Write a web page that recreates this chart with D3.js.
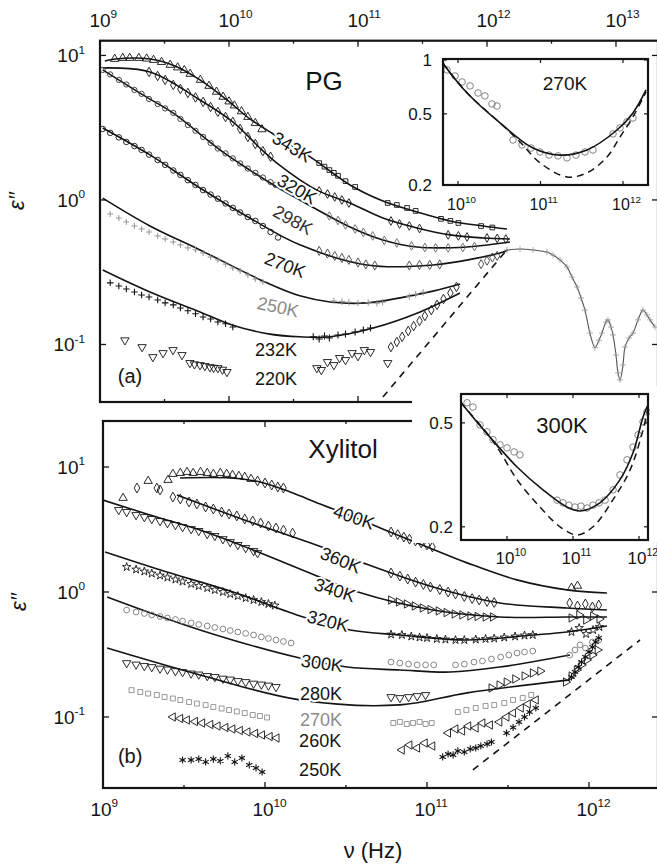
<!DOCTYPE html>
<html>
<head>
<meta charset="utf-8">
<script src="https://cdn.jsdelivr.net/npm/d3@7/dist/d3.min.js"></script>
<style>
  html, body { margin: 0; padding: 0; background: #fff; }
  svg { display: block; }
  text { font-family: "Liberation Sans", Arial, Helvetica, sans-serif; }
</style>
</head>
<body>
<svg id="fig" width="657" height="866"></svg>
<script>
// Dielectric loss eps'' versus frequency for propylene glycol (PG) and xylitol.
// Frequencies are given in GHz, loss values as plain numbers.
const GHz = 1e9;
const INK = '#141414', GRAY = '#8c8c8c';

// ---------------- PG: model curves ----------------
const fitPG343 = [[1.09,9.16],[1.31,9.46],[2.44,9.46],[3.81,8.46],[5.96,6.77],[9.64,4.92],[14.5,3.64],[21.9,2.87],[44,1.95],[86.7,1.27],[156,0.984],[287,0.826],[517,0.716],[931,0.661],[1429,0.63]];
const fitPG320 = [[1.05,8.19],[2.44,7.69],[5.96,4.92],[10.7,3.47],[18.0,2.22],[23.5,1.80],[48,1.17],[86.7,0.953],[156,0.75],[287,0.64],[517,0.573],[931,0.546],[1507,0.537]];
const fitPG298 = [[1.05,7.94],[2.15,5.33],[3.68,4.0],[8.51,2.22],[14.5,1.61],[23.5,1.23],[35.4,1.0],[86.7,0.651],[156,0.529],[287,0.473],[700,0.473],[1507,0.512]];
const fitPG270 = [[1.05,3.15],[2.44,2.05],[5.96,1.21],[14.5,0.75],[35.4,0.489],[117,0.355],[381,0.355],[1262,0.430],[1455,0.451]];
const fitPG250 = [[1.05,1.03],[2.44,0.661],[5.96,0.451],[19.7,0.267],[35.4,0.217],[60.7,0.197],[117,0.194],[381,0.234],[618,0.262]];
const fitPG232 = [[1.05,0.328],[2.44,0.231],[5.96,0.168],[10.7,0.136],[20.8,0.118],[35.4,0.113],[60.7,0.113],[131,0.130],[303,0.168],[618,0.227]];
const pgSlopeOne = [[156,0.0433],[1380,0.436]];

// ---------------- PG: measured points ----------------
const pg343Low = [[1.3,9.46],[1.5,9.6],[1.7,9.6],[2,9.6],[2.3,9.5],[2.6,9.3],[3,9.0],[3.5,8.6],[4,8.25],[4.5,7.9],[5,7.45],[6,6.77],[7,6.15],[8,5.6],[9,5.17],[10,4.8],[11,4.5],[12.5,4.1],[14,3.75],[16,3.4],[18,3.08]];
const pg343High = [[50,1.80],[55,1.70],[60,1.61],[65,1.54],[70,1.47],[80,1.35],[95,1.23],[170,0.953],[200,0.923],[240,0.88],[280,0.84],[440,0.74],[520,0.716],[600,0.693],[900,0.66],[1100,0.645]];
const pg320Low = [[2.4,7.69],[2.8,7.21],[3.2,6.77],[3.7,6.25],[4.2,5.86],[4.8,5.5],[5.5,5.12],[6.3,4.77],[7.2,4.4],[8.2,4.07],[9.4,3.75],[10.7,3.47],[12.2,3.1],[14,2.73],[16,2.44],[18.3,2.18],[21,1.99]];
const pg320High = [[50,1.154],[58,1.10],[66,1.049],[75,1.0],[85,0.953],[180,0.716],[210,0.682],[250,0.661],[300,0.635],[500,0.573],[600,0.564],[700,0.555],[1000,0.546],[1200,0.542],[1400,0.537]];
const pg298Low = [[1.05,7.94],[1.2,7.39],[1.4,6.77],[1.6,6.3],[1.85,5.77],[2.1,5.42],[2.4,5.0],[2.8,4.61],[3.2,4.3],[3.7,4.0],[4.2,3.64],[4.8,3.3],[5.5,3.01],[6.3,2.73],[7.2,2.48],[8.2,2.27],[9.4,2.1],[10.7,1.94],[12.2,1.79],[14,1.65],[16,1.54],[18.3,1.43],[21,1.33],[23,1.27]];
const pg298High = [[60,0.775],[70,0.721],[80,0.671],[95,0.63],[110,0.596],[130,0.564],[160,0.525],[200,0.504],[260,0.481],[330,0.469],[400,0.466],[500,0.466],[650,0.469],[800,0.476]];
const pg270Low = [[1.05,3.10],[1.2,2.91],[1.4,2.71],[1.6,2.52],[1.85,2.36],[2.1,2.22],[2.4,2.06],[2.8,1.89],[3.2,1.75],[3.7,1.60],[4.2,1.49],[4.8,1.37],[5.5,1.27],[6.3,1.17],[7.2,1.09],[8.2,1.02],[9.4,0.946],[10.7,0.881],[12.2,0.819],[14,0.762],[16,0.716],[18.3,0.66],[21,0.60],[24,0.55]];
const pg270High = [[50,0.444],[58,0.426],[66,0.41],[75,0.397],[85,0.385],[100,0.369],[115,0.358],[135,0.352],[250,0.352],[300,0.355],[360,0.355],[430,0.358],[900,0.36],[1000,0.38],[1100,0.40],[1200,0.41]];
const pg250Low = [[1.2,0.80],[1.4,0.75],[1.6,0.705],[1.85,0.661],[2.1,0.63],[2.4,0.60],[2.8,0.564],[3.2,0.537],[3.7,0.512],[4.2,0.489],[4.8,0.466],[5.5,0.451],[6.3,0.43],[7.2,0.403],[8.2,0.385],[9.4,0.36],[10.7,0.338],[12.2,0.323],[14,0.303],[16,0.284],[18.3,0.271]];
const pg250High = [[65,0.20],[75,0.198],[85,0.196],[100,0.194],[120,0.195],[140,0.193],[155,0.196],[250,0.215],[280,0.222],[320,0.23]];
const pg232Low = [[1.2,0.267],[1.4,0.254],[1.6,0.242],[1.85,0.231],[2.1,0.22],[2.4,0.213],[2.8,0.203],[3.2,0.194],[3.7,0.188],[4.2,0.179],[4.8,0.171],[5.5,0.163],[6.3,0.155],[7.2,0.15],[8.2,0.143],[9.4,0.139],[10.7,0.132]];
const pg232High = [[45,0.113],[50,0.109],[55,0.1145],[60,0.111],[70,0.1164],[80,0.118],[95,0.122],[110,0.126],[125,0.130]];
const pg232THz = [[180,0.096],[200,0.104],[220,0.113],[245,0.124],[270,0.134],[300,0.1455],[330,0.1575],[370,0.173],[410,0.188],[460,0.2065],[520,0.227],[580,0.25]];
const pg220Low = [[1.56,0.107],[2.12,0.096],[2.57,0.0819],[3.08,0.0873],[3.68,0.0916],[4.32,0.0846],[4.98,0.0745],[5.4,0.073],[5.96,0.0721],[6.5,0.071],[7.12,0.0698],[7.6,0.069],[8.2,0.0687],[8.9,0.067],[9.64,0.0646]];
const pg220High = [[48,0.0687],[52,0.0667],[58,0.0757],[65,0.0721],[72,0.0807],[80,0.0781],[90,0.0873],[100,0.0832],[112,0.0916],[125,0.0888],[170,0.0745]];
// far-infrared spectrum (single broad band with structure)
const pgTHz = [[1429,0.451],[1803,0.458],[2275,0.451],[2917,0.436],[3250,0.416],[3680,0.385],[4170,0.344],[4560,0.293],[4990,0.250],[5360,0.210],[5750,0.173],[6280,0.120],[6870,0.095],[7380,0.107],[7780,0.120],[8360,0.143],[8670,0.148],[9150,0.132],[9480,0.1164],[10000,0.0846],[10370,0.0636],[10750,0.0568],[11330,0.0721],[11750,0.096],[12620,0.111],[13550,0.120],[14820,0.148],[16180,0.173],[17380,0.160],[18370,0.148],[20050,0.132]];

// ---------------- Xylitol: model curves ----------------
const fitXy400 = [[2.99,8.17],[6.08,8.17],[9.31,7.59],[14.3,6.31],[21.9,5.06],[35.4,3.98],[59.1,3.02],[104,2.25],[177,1.71],[359,1.25],[731,1.04],[1291,0.982]];
const fitXy360 = [[2.86,5.97],[8.08,3.63],[25.2,2.17],[40.3,1.71],[109,1.096],[282,0.817],[731,0.745],[1291,0.718]];
const fitXy340 = [[1,5.44],[1.95,4.13],[3.97,3.13],[8.43,2.17],[18.9,1.42],[37.5,1.0],[109,0.718],[282,0.631],[731,0.631],[1291,0.631]];
const fitXy320 = [[1.03,2.09],[2.48,1.445],[6.35,1.0],[17.2,0.631],[33.5,0.497],[68.1,0.453],[177,0.413],[451,0.453],[731,0.479],[1291,0.535]];
const fitXy300 = [[1.06,0.912],[3.97,0.497],[16.4,0.296],[32.1,0.251],[68.1,0.238],[139,0.229],[282,0.251],[763,0.313]];
const fitXy280 = [[1.06,0.356],[3.97,0.217],[16.4,0.137],[68.1,0.125],[177,0.156],[763,0.198]];
const xySlopeOne = [[192,0.0377],[2065,0.413]];

// ---------------- Xylitol: measured points ----------------
const xy400 = [[1.33,5.65],[1.9,7.73],[2.52,7.87],[2.7,8.79],[3,8.95],[3.3,9.12],[3.6,8.95],[4,9.12],[4.4,8.95],[4.8,8.79],[5.3,8.95],[5.8,8.79],[6.3,8.63],[6.9,8.47],[7.5,8.32],[8.2,8.02],[780,1.08],[850,1.12]];
const xy400b = [[1.62,6.79],[2.25,6.55],[9,7.73],[10,7.45],[11,7.18],[12,6.92],[13,6.79],[60,3.02],[66,2.88],[72,2.75],[78,2.65],[85,2.56],[92,2.47],[100,2.38],[108,2.29]];
const xy360 = [[2.15,6.79],[2.7,5.75],[3,5.55],[3.4,5.25],[3.8,5.06],[4.3,4.79],[4.8,4.61],[5.4,4.37],[6,4.21],[6.7,4.06],[7.5,3.84],[8.4,3.70],[9.4,3.56],[10.5,3.37],[11.7,3.25],[13,3.13],[14.8,2.96],[60,1.42],[68,1.34],[76,1.27],[85,1.20],[95,1.148],[105,1.096],[120,1.047],[135,1.0],[150,0.964],[170,0.92],[190,0.887],[210,0.863],[235,0.839],[260,0.824],[760,0.817],[850,0.773],[950,0.802],[1050,0.759],[1150,0.787]];
const xy340Low = [[1.25,4.53],[1.4,4.37],[1.6,4.13],[1.8,3.98],[2,3.84],[2.25,3.70],[2.5,3.56],[2.8,3.44],[3.1,3.31],[3.5,3.19],[3.9,3.08],[4.4,2.91],[4.9,2.81],[5.5,2.65],[6.1,2.51],[6.8,2.38],[7.6,2.25],[8.5,2.13],[9,2.05]];
const xy340High = [[60,0.863],[67,0.832],[75,0.802],[84,0.773],[94,0.745],[105,0.724],[118,0.705],[132,0.685],[148,0.667],[165,0.655],[185,0.643],[205,0.637],[230,0.631],[255,0.631],[780,0.62],[870,0.655],[960,0.597],[1060,0.643],[1160,0.608]];
const xy320 = [[1.4,1.585],[1.6,1.514],[1.8,1.459],[2,1.406],[2.25,1.355],[2.5,1.306],[2.8,1.259],[3.1,1.213],[3.5,1.159],[3.9,1.117],[4.4,1.076],[4.9,1.038],[5.5,1.0],[6.1,0.964],[6.8,0.929],[7.6,0.895],[8.5,0.863],[9.5,0.832],[10.5,0.802],[11.5,0.78],[60,0.457],[70,0.453],[80,0.441],[90,0.433],[100,0.429],[115,0.421],[130,0.417],[150,0.413],[170,0.413],[200,0.417],[230,0.421],[260,0.425],[300,0.433],[350,0.441],[400,0.449],[450,0.453],[780,0.479],[870,0.515],[960,0.461],[1060,0.497],[1160,0.525]];
const xy300 = [[1.4,0.718],[1.6,0.692],[1.8,0.673],[2,0.655],[2.25,0.637],[2.5,0.619],[2.8,0.603],[3.1,0.586],[3.5,0.565],[3.9,0.55],[4.4,0.535],[4.9,0.52],[5.5,0.506],[6.1,0.492],[6.8,0.479],[7.6,0.466],[8.5,0.453],[9.5,0.437],[10.5,0.425],[11.7,0.413],[13,0.402],[14.5,0.391],[60,0.275],[68,0.27],[77,0.265],[87,0.261],[98,0.261],[110,0.261],[150,0.261],[170,0.265],[195,0.275],[220,0.281],[250,0.291],[285,0.302],[320,0.313],[360,0.325],[400,0.331],[450,0.337],[760,0.313],[820,0.344],[880,0.377],[950,0.356],[1050,0.398],[1150,0.413]];
const xy280 = [[1.4,0.27],[1.6,0.263],[1.8,0.256],[2,0.251],[2.25,0.244],[2.5,0.24],[2.8,0.233],[3.1,0.229],[3.5,0.223],[3.9,0.219],[4.4,0.213],[4.9,0.209],[5.5,0.203],[6.1,0.1995],[6.8,0.194],[7.6,0.1905],[8.5,0.185],[9.5,0.182],[10.5,0.1786],[11.7,0.1738],[60,0.1445],[68,0.1419],[77,0.1445],[87,0.147],[98,0.15]];
const xy280b = [[250,0.1706],[280,0.1803],[310,0.1905],[350,0.2014],[400,0.213],[450,0.225],[500,0.233],[720,0.1905],[780,0.213],[840,0.238],[900,0.261],[970,0.286],[1050,0.313],[1130,0.344]];
const xy270 = [[1.5,0.164],[1.7,0.1585],[1.9,0.154],[2.15,0.150],[2.4,0.1445],[2.7,0.1406],[3,0.1368],[3.4,0.1318],[3.8,0.128],[4.3,0.1247],[4.8,0.1202],[5.4,0.117],[6,0.1138],[6.7,0.1107],[7.5,0.1076],[8.4,0.1038],[9.3,0.1019],[10.3,0.0991],[62,0.0895],[68,0.0912],[75,0.0879],[82,0.0895],[90,0.0912],[98,0.0879],[107,0.0895],[155,0.1096],[175,0.1138],[200,0.118],[230,0.1225],[260,0.1247],[300,0.1294],[340,0.1368],[390,0.1419],[440,0.15]];
const xy260 = [[2.7,0.1],[3,0.0973],[3.3,0.0946],[3.7,0.092],[4.1,0.0895],[4.6,0.0871],[5.1,0.0847],[5.7,0.0824],[6.3,0.0802],[7,0.078],[7.8,0.0759],[8.7,0.0738],[9.6,0.0718],[10.7,0.0698],[11.8,0.0679],[70,0.0545],[78,0.0597],[87,0.0565],[97,0.0619],[108,0.0586],[135,0.0745],[150,0.0802],[165,0.0773],[180,0.0847],[200,0.0817],[220,0.0895],[245,0.0863],[280,0.0912],[310,0.1],[340,0.1076],[380,0.118],[420,0.127],[470,0.1368]];
const xy250 = [[3.1,0.0453],[3.5,0.0453],[3.9,0.0461],[4.3,0.0437],[4.8,0.0461],[5.3,0.0445],[5.9,0.0488],[6.5,0.0437],[7.2,0.047],[8,0.0413],[8.8,0.0391],[9.6,0.0363],[125,0.0479],[135,0.0506],[145,0.0497],[155,0.0535],[170,0.0525],[185,0.0555],[200,0.0565],[215,0.0586],[235,0.0608],[250,0.0631],[310,0.0745],[340,0.0824],[370,0.0912],[400,0.1],[430,0.1096],[470,0.118],[780,0.209],[820,0.229],[860,0.251],[900,0.275],[950,0.302],[1000,0.331],[1050,0.363],[1100,0.398],[1150,0.429]];

// ---------------- insets ----------------
const insetPGFit = [[6.6,0.96],[6.95,0.926],[12.9,0.654],[32.3,0.445],[81.1,0.322],[172,0.294],[366,0.314],[845,0.406],[1321,0.506],[1901,0.68]];
const insetPGDash = [[6.6,0.96],[6.95,0.926],[12.9,0.654],[32.3,0.445],[56.5,0.348],[98.6,0.266],[209,0.222],[366,0.234],[640,0.287],[920,0.371],[1321,0.481],[1901,0.663]];
const insetPGData = [[7.36,0.88],[9.2,0.814],[11.2,0.754],[14,0.716],[17.5,0.654],[21.2,0.63],[25.8,0.568],[29.7,0.553],[46.4,0.357],[59.7,0.335],[76.7,0.322],[98.6,0.306],[127,0.294],[163,0.291],[209,0.284],[269,0.294],[346,0.306],[432,0.314],[757,0.386],[920,0.417],[1117,0.451],[1321,0.474]];
const insetXyFit = [[2.0,0.60],[2.15,0.586],[5.52,0.441],[14.2,0.339],[35.1,0.277],[81.1,0.238],[128,0.230],[256,0.247],[515,0.303],[811,0.384],[1151,0.527],[1340,0.58]];
const insetXyDash = [[2.0,0.60],[2.15,0.586],[5.52,0.441],[7.83,0.388],[14.2,0.303],[31.6,0.238],[63.5,0.200],[115,0.186],[201,0.200],[404,0.254],[731,0.330],[1151,0.470],[1340,0.56]];
const insetXyData = [[2.48,0.597],[3.05,0.575],[3.9,0.491],[4.98,0.462],[6.14,0.431],[7.83,0.412],[10,0.401],[12.8,0.387],[15.7,0.377],[57.3,0.253],[70.5,0.247],[86.9,0.242],[107,0.238],[132,0.24],[163,0.236],[201,0.242],[248,0.247],[306,0.253],[404,0.277],[515,0.316],[658,0.361],[811,0.404],[966,0.45],[1151,0.505],[1321,0.551]];

// ---------------- ticks ----------------
const xDecadesA = [1e9, 1e10, 1e11, 1e12, 1e13];
const xHalfA = [10 ** 9.5, 10 ** 10.5, 10 ** 11.5, 10 ** 12.5];
const xDecadesB = [1e9, 1e10, 1e11, 1e12];
const xHalfB = [10 ** 9.5, 10 ** 10.5, 10 ** 11.5];
const yDecades = [10, 1, 0.1];
const insetXTicks = [1e10, 1e11, 1e12];
const insetPGYTicks = [1, 0.5, 0.2];
const insetXyYTicks = [0.5, 0.2];

// ---------------- scales ----------------
const xA = d3.scaleLog().domain([1e9, 10 ** 13.318]).range([100, 657]);
const yA = d3.scaleLog().domain([10 ** -1.398, 10 ** 1.102]).range([402, 40.7]);
const xB = d3.scaleLog().domain([1e9, 10 ** 12.42]).range([103, 657]);
const yB = d3.scaleLog().domain([10 ** -1.568, 10 ** 1.368]).range([788, 421]);
const xIA = d3.scaleLog().domain([10 ** 9.818, 10 ** 12.303]).range([443, 648]);
const yIA = d3.scaleLog().domain([0.2, 1.013]).range([185, 59]);
const xIB = d3.scaleLog().domain([10 ** 9.303, 10 ** 12.136]).range([461, 648]);
const yIB = d3.scaleLog().domain([0.178, 0.645]).range([540, 394]);

const svg = d3.select('#fig');
const defs = svg.append('defs');
function clipRect(id, x, y) {
  const [x0, x1] = x.range(), [y1, y0] = y.range();
  defs.append('clipPath').attr('id', id).append('rect')
    .attr('x', x0).attr('y', y0).attr('width', x1 - x0 + 2).attr('height', y1 - y0);
  return `url(#${id})`;
}

const SYM = {
  tri: [d3.symbolTriangle, 0], triDown: [d3.symbolTriangle, 180],
  triLeft: [d3.symbolTriangle, -90], triRight: [d3.symbolTriangle, 90],
  diamond: [d3.symbolDiamond, 0], circle: [d3.symbolCircle, 0],
  square: [d3.symbolSquare, 0], star: [d3.symbolStar, 0],
  plus: [d3.symbolPlus || d3.symbolCross, 0],
  asterisk: [d3.symbolAsterisk || d3.symbolWye, 0]
};

function curve(g, pts, x, y, opts = {}) {
  const line = d3.line().x(d => x(d[0] * GHz)).y(d => y(d[1]))
    .curve(opts.straight ? d3.curveLinear : d3.curveCatmullRom.alpha(0.5));
  g.append('path').datum(pts).attr('d', line)
    .attr('fill', 'none').attr('stroke', opts.color || INK)
    .attr('stroke-width', opts.width || 1.6)
    .attr('stroke-dasharray', opts.dash || null);
}

function markers(g, pts, x, y, sym, color, size, sw) {
  const [type, rot] = SYM[sym];
  g.append('g').selectAll('path').data(pts).join('path')
    .attr('d', d3.symbol(type, size))
    .attr('transform', d => `translate(${x(d[0] * GHz)},${y(d[1])}) rotate(${rot})`)
    .attr('fill', 'none').attr('stroke', color).attr('stroke-width', sw || 0.9);
}

function label(g, x, y, d, text, opts = {}) {
  g.append('text')
    .attr('transform', `translate(${x(d[0] * GHz)},${y(d[1])}) rotate(${opts.angle || 0})`)
    .attr('text-anchor', 'middle').attr('dy', '0.35em')
    .attr('font-size', opts.size || 18)
    .attr('fill', opts.color || INK)
    .attr('stroke', opts.halo === false ? null : '#fff')
    .attr('stroke-width', opts.halo === false ? null : 4)
    .attr('stroke-linejoin', 'round')
    .style('paint-order', 'stroke')
    .text(text);
}

// power-of-ten label, "10" centred at px for horizontal axes
function powerX(g, px, baseline, v, fs) {
  const t = g.append('text').attr('x', px - 0.556 * fs).attr('y', baseline)
    .attr('font-size', fs).attr('fill', INK);
  t.append('tspan').text('10');
  t.append('tspan').attr('font-size', fs * 0.62).attr('dy', -fs * 0.45)
    .text(Math.round(Math.log10(v)));
}
function powerY(g, right, py, v, fs) {
  const t = g.append('text').attr('x', right).attr('y', py + fs * 0.36)
    .attr('text-anchor', 'end').attr('font-size', fs).attr('fill', INK);
  t.append('tspan').text('10');
  t.append('tspan').attr('font-size', fs * 0.62).attr('dy', -fs * 0.45)
    .text(String(Math.round(Math.log10(v))).replace('-', '-'));
}

function frameAndTicks(g, x, y, xMajor, xMinor, yMajor, sw) {
  const [x0, x1] = x.range(), [y1, y0] = y.range();
  g.append('rect').attr('x', x0).attr('y', y0).attr('width', x1 + 1 - x0).attr('height', y1 - y0)
    .attr('fill', 'none').attr('stroke', INK).attr('stroke-width', sw);
  const tk = g.append('g').attr('stroke', INK).attr('stroke-width', 1.3);
  xMajor.filter(v => v >= x.domain()[0] && v <= x.domain()[1]).forEach(v => {
    tk.append('line').attr('x1', x(v)).attr('x2', x(v)).attr('y1', y0).attr('y2', y0 + 6);
    tk.append('line').attr('x1', x(v)).attr('x2', x(v)).attr('y1', y1).attr('y2', y1 - 6);
  });
  xMinor.filter(v => v >= x.domain()[0] && v <= x.domain()[1]).forEach(v => {
    tk.append('line').attr('x1', x(v)).attr('x2', x(v)).attr('y1', y0).attr('y2', y0 + 3);
    tk.append('line').attr('x1', x(v)).attr('x2', x(v)).attr('y1', y1).attr('y2', y1 - 3);
  });
  yMajor.forEach(v => {
    tk.append('line').attr('x1', x0).attr('x2', x0 + 6).attr('y1', y(v)).attr('y2', y(v));
    tk.append('line').attr('x1', x1 + 1).attr('x2', x1 - 5).attr('y1', y(v)).attr('y2', y(v));
  });
}

// ================= panel (a): PG =================
const gA = svg.append('g').attr('clip-path', clipRect('clipA', xA, yA));
[fitPG343, fitPG320, fitPG298, fitPG270, fitPG250, fitPG232].forEach(f => curve(gA, f, xA, yA));
curve(gA, pgSlopeOne, xA, yA, { straight: true, dash: '7,6', width: 1.6 });
curve(gA, pgTHz, xA, yA, { color: '#555', width: 1.1 });
markers(gA, pgTHz, xA, yA, 'plus', '#999', 14, 0.8);

markers(gA, pg343Low, xA, yA, 'tri', INK, 30);
markers(gA, pg343High, xA, yA, 'square', INK, 22);
markers(gA, pg320Low, xA, yA, 'diamond', INK, 26);
markers(gA, pg320High, xA, yA, 'diamond', INK, 22);
markers(gA, pg298Low, xA, yA, 'circle', '#333', 22);
markers(gA, pg298High, xA, yA, 'diamond', '#666', 22);
markers(gA, pg270Low, xA, yA, 'circle', INK, 24);
markers(gA, pg270High, xA, yA, 'diamond', '#444', 24);
markers(gA, pg250Low, xA, yA, 'plus', GRAY, 14);
markers(gA, pg250High, xA, yA, 'plus', GRAY, 16);
markers(gA, pg232Low, xA, yA, 'plus', INK, 16, 1.1);
markers(gA, pg232High, xA, yA, 'plus', INK, 18, 1.1);
markers(gA, pg232THz, xA, yA, 'diamond', INK, 26);
markers(gA, pg220Low, xA, yA, 'triDown', INK, 30);
markers(gA, pg220High, xA, yA, 'triDown', INK, 30);

// ================= panel (b): Xylitol =================
const gB = svg.append('g').attr('clip-path', clipRect('clipB', xB, yB));
[fitXy400, fitXy360, fitXy340, fitXy320, fitXy300, fitXy280].forEach(f => curve(gB, f, xB, yB));
curve(gB, xySlopeOne, xB, yB, { straight: true, dash: '7,6', width: 1.6 });
markers(gB, xy400, xB, yB, 'tri', INK, 30);
markers(gB, xy400b, xB, yB, 'diamond', INK, 28);
markers(gB, xy360, xB, yB, 'diamond', INK, 28);
markers(gB, xy340Low, xB, yB, 'triDown', INK, 30);
markers(gB, xy340High, xB, yB, 'triRight', INK, 30);
markers(gB, xy320, xB, yB, 'star', INK, 22);
markers(gB, xy300, xB, yB, 'circle', '#777', 26);
markers(gB, xy280, xB, yB, 'triDown', INK, 30);
markers(gB, xy280b, xB, yB, 'triRight', INK, 30);
markers(gB, xy270, xB, yB, 'square', GRAY, 24);
markers(gB, xy260, xB, yB, 'triLeft', INK, 30);
markers(gB, xy250, xB, yB, 'asterisk', INK, 36, 1.1);

// ================= frames, ticks, tick labels =================
const axes = svg.append('g');
frameAndTicks(axes, xA, yA, xDecadesA, xHalfA, yDecades, 2.2);
frameAndTicks(axes, xB, yB, xDecadesB, xHalfB, yDecades, 2.2);
xDecadesA.forEach(v => powerX(axes, xA(v), 27, v, 19));
xDecadesB.forEach(v => powerX(axes, xB(v) - 2, 816, v, 19));
yDecades.forEach(v => powerY(axes, 85, yA(v), v, 19));
yDecades.forEach(v => powerY(axes, 85, yB(v), v, 19));

// ================= curve labels =================
const lab = svg.append('g');
label(lab, xA, yA, [30.8, 2.33], '343K', { angle: 31 });
label(lab, xA, yA, [33.7, 1.19], '320K', { angle: 30 });
label(lab, xA, yA, [31.3, 0.727], '298K', { angle: 29, color: '#333' });
label(lab, xA, yA, [27.2, 0.355], '270K', { angle: 21 });
label(lab, xA, yA, [24.0, 0.182], '250K', { angle: 12, color: GRAY });
label(lab, xA, yA, [23.1, 0.0916], '232K');
label(lab, xA, yA, [23.1, 0.0577], '220K');
label(lab, xA, yA, [1.71, 0.0605], '(a)', { size: 20 });
label(lab, xA, yA, [54.5, 6.66], 'PG', { size: 26 });

label(lab, xB, yB, [35.4, 3.98], '400K', { angle: 19 });
label(lab, xB, yB, [29.4, 1.80], '360K', { angle: 22 });
label(lab, xB, yB, [27.0, 1.04], '340K', { angle: 18 });
label(lab, xB, yB, [24.5, 0.586], '320K', { angle: 14 });
label(lab, xB, yB, [22.5, 0.270], '300K', { angle: 8 });
label(lab, xB, yB, [22.2, 0.153], '280K');
label(lab, xB, yB, [22.2, 0.0946], '270K', { color: GRAY });
label(lab, xB, yB, [21.9, 0.0643], '260K');
label(lab, xB, yB, [21.9, 0.0377], '250K');
label(lab, xB, yB, [1.47, 0.0488], '(b)', { size: 20 });
label(lab, xB, yB, [30.3, 13.9], 'Xylitol', { size: 26 });

// ================= inset: PG at 270K =================
function inset(x, y, bg, fit, dash, pts, yTicks, yFmt, yRight, xBase, fs, name, namePos, nameSize) {
  const [x0, x1] = x.range(), [y1, y0] = y.range();
  svg.append('rect').attr('x', bg[0]).attr('y', bg[1]).attr('width', bg[2] - bg[0]).attr('height', bg[3] - bg[1])
    .attr('fill', '#fff');
  const g = svg.append('g').attr('clip-path', clipRect(name.replace(/\W/g, '') + 'clip', x, y));
  markers(g, pts, x, y, 'circle', '#777', 34, 0.9);
  curve(g, dash, x, y, { dash: '7,5', width: 1.5 });
  curve(g, fit, x, y, { width: 1.6 });
  svg.append('rect').attr('x', x0).attr('y', y0).attr('width', x1 - x0).attr('height', y1 - y0)
    .attr('fill', 'none').attr('stroke', INK).attr('stroke-width', 2.2);
  const tk = svg.append('g').attr('stroke', INK).attr('stroke-width', 1.2);
  insetXTicks.forEach(v => {
    tk.append('line').attr('x1', x(v)).attr('x2', x(v)).attr('y1', y0).attr('y2', y0 + 4);
    tk.append('line').attr('x1', x(v)).attr('x2', x(v)).attr('y1', y1).attr('y2', y1 - 4);
    powerX(svg, x(v) - 2, xBase, v, fs);
  });
  yTicks.forEach(v => {
    tk.append('line').attr('x1', x0).attr('x2', x0 + 4).attr('y1', y(v)).attr('y2', y(v));
    tk.append('line').attr('x1', x1).attr('x2', x1 - 4).attr('y1', y(v)).attr('y2', y(v));
    svg.append('text').attr('x', yRight).attr('y', y(v) + 6).attr('text-anchor', 'end')
      .attr('font-size', 17).attr('fill', INK).text(yFmt(v));
  });
  label(svg, x, y, namePos, name, { size: nameSize, halo: false });
}
inset(xIA, yIA, [443, 59, 648, 185], insetPGFit, insetPGDash, insetPGData,
      insetPGYTicks, v => String(v), 432, 210, 16, '270K', [198, 0.744], 19);
inset(xIB, yIB, [412, 386, 658, 543], insetXyFit, insetXyDash, insetXyData,
      insetXyYTicks, v => String(v), 453, 564, 17, '300K', [68.1, 0.491], 22);

// ================= axis titles =================
svg.append('text').attr('transform', 'translate(24,201) rotate(-90)')
  .attr('text-anchor', 'middle').attr('font-size', 22).attr('font-style', 'italic')
  .attr('fill', INK).text('ε′′');
svg.append('text').attr('transform', 'translate(26,602) rotate(-90)')
  .attr('text-anchor', 'middle').attr('font-size', 22).attr('font-style', 'italic')
  .attr('fill', INK).text('ε′′');
svg.append('text').attr('x', 373).attr('y', 858).attr('text-anchor', 'middle')
  .attr('font-size', 22).attr('fill', INK).text('ν (Hz)');
</script>
</body>
</html>
